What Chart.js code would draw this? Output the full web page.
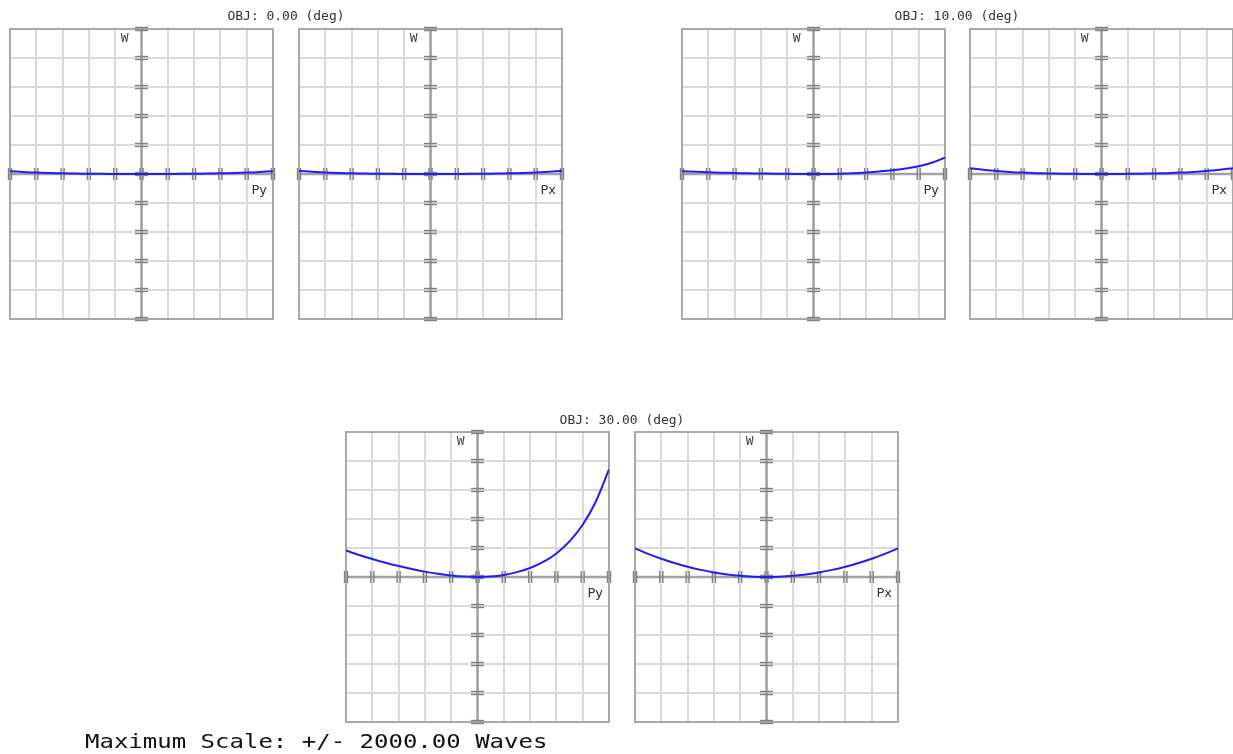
<!DOCTYPE html>
<html>
<head>
<meta charset="utf-8">
<script src="https://cdn.jsdelivr.net/npm/chart.js@4.4.1/dist/chart.umd.min.js"></script>
<style>
  html, body { margin: 0; padding: 0; background: #fff; width: 1233px; height: 754px; overflow: hidden; position: relative; }
  canvas { position: absolute; }
  .fieldTitle { position: absolute; font: 12px "DejaVu Sans Mono", monospace; line-height: 14px; color: #333; white-space: nowrap; transform: translateX(-50%) scaleX(1.08); }
  .scaleNote { position: absolute; left: 85px; top: 729px; font: 20px "DejaVu Sans Mono", monospace; line-height: 24px; color: #111; white-space: nowrap; transform: scaleX(1.2); transform-origin: 0 0; }
</style>
</head>
<body>
<div id="page"></div>
<script>
// Normalised pupil coordinate (Py or Px) at which each aberration value is sampled
const pupil = [-1.0, -0.9, -0.8, -0.7, -0.6, -0.5, -0.4, -0.3, -0.2, -0.1, 0.0,
                0.1,  0.2,  0.3,  0.4,  0.5,  0.6,  0.7,  0.8,  0.9, 1.0];

// Optical path difference, in waves, for each field angle
const obj0Tangential  = [38, 28, 19, 13, 9, 6, 4, 2, 1, 0, 0, 0, 1, 2, 4, 6, 9, 13, 19, 28, 38];
const obj0Sagittal    = [42, 31, 21, 14, 9, 6, 4, 2, 1, 0, 0, 0, 1, 2, 4, 6, 9, 14, 21, 31, 42];
const obj10Tangential = [38, 30, 23, 18, 14, 10, 7, 4, 2, 1, 0, 1, 5, 12, 22, 35, 52, 76, 108, 155, 225];
const obj10Sagittal   = [80, 58, 42, 29, 19, 12, 7, 4, 2, 0, 0, 0, 2, 4, 7, 12, 19, 29, 42, 58, 80];
const obj30Tangential = [365, 304, 248, 197, 151, 110, 74, 44, 21, 6, 0, 7, 29, 67, 124, 207, 325, 491, 720, 1042, 1485];
const obj30Sagittal   = [395, 319, 251, 192, 141, 98, 63, 36, 16, 4, 0, 4, 16, 36, 63, 98, 141, 192, 251, 319, 395];

// Field titles and axis captions
const fieldTitles = ['OBJ: 0.00 (deg)', 'OBJ: 10.00 (deg)', 'OBJ: 30.00 (deg)'];
const waveLabel = 'W';
const pupilLabels = ['Py', 'Px'];
const scaleText = 'Maximum Scale: +/- 2000.00 Waves';

// Axis extents: pupil from -1 to 1, wavefront within the maximum scale
const pupilMin = -1, pupilMax = 1, pupilStep = 0.2;
const waveMax = 2000, waveStep = 400;

// Layout of the plot boxes
const PAD = 9;
const BOX_W = 263, BOX_H = 290;
const panels = [
  { left: 10,  top: 29,  data: obj0Tangential,  label: pupilLabels[0] },
  { left: 299, top: 29,  data: obj0Sagittal,    label: pupilLabels[1] },
  { left: 682, top: 29,  data: obj10Tangential, label: pupilLabels[0] },
  { left: 970, top: 29,  data: obj10Sagittal,   label: pupilLabels[1] },
  { left: 346, top: 432, data: obj30Tangential, label: pupilLabels[0] },
  { left: 635, top: 432, data: obj30Sagittal,   label: pupilLabels[1] }
];
const titlePlaces = [
  { cx: 286, top: 9 },
  { cx: 957, top: 9 },
  { cx: 622, top: 413 }
];

const page = document.getElementById('page');

// Centre axes with double tick marks, frame, and captions
const fanAxes = {
  id: 'fanAxes',
  beforeDatasetsDraw(chart) {
    const { ctx, chartArea: a, scales: { x, y } } = chart;
    const x0 = x.getPixelForValue(0), y0 = y.getPixelForValue(0);
    const seg = (x1, y1, x2, y2) => { ctx.beginPath(); ctx.moveTo(x1, y1); ctx.lineTo(x2, y2); ctx.stroke(); };
    ctx.save();
    ctx.strokeStyle = '#a9a9a9';
    ctx.lineWidth = 2;
    ctx.strokeRect(a.left, a.top, a.right - a.left, a.bottom - a.top);
    ctx.strokeStyle = '#a2a2a2';
    ctx.lineWidth = 2.5;
    seg(x0, a.top, x0, a.bottom);
    seg(a.left, y0, a.right, y0);
    ctx.strokeStyle = '#808080';
    ctx.lineWidth = 1.4;
    y.ticks.forEach(t => {
      const py = y.getPixelForValue(t.value);
      seg(x0 - 6.5, py - 1.5, x0 + 6.5, py - 1.5);
      seg(x0 - 6.5, py + 1.5, x0 + 6.5, py + 1.5);
    });
    x.ticks.forEach(t => {
      const px = x.getPixelForValue(t.value);
      seg(px - 1.5, y0 - 6, px - 1.5, y0 + 6);
      seg(px + 1.5, y0 - 6, px + 1.5, y0 + 6);
    });
    ctx.restore();
  },
  afterDraw(chart, args, opts) {
    const { ctx, chartArea: a, scales: { x, y } } = chart;
    const x0 = x.getPixelForValue(0), y0 = y.getPixelForValue(0);
    ctx.save();
    ctx.fillStyle = '#444';
    ctx.textAlign = 'right';
    ctx.textBaseline = 'alphabetic';
    ctx.font = '13px "DejaVu Sans Mono", monospace';
    ctx.fillText(waveLabel, x0 - 13, a.top + 12.5);
    ctx.fillStyle = '#333';
    ctx.font = '13px "DejaVu Sans", sans-serif';
    ctx.fillText(opts.caption, a.right - 6, y0 + 20);
    ctx.restore();
  }
};

panels.forEach(p => {
  const cv = document.createElement('canvas');
  cv.width = BOX_W + 2 * PAD;
  cv.height = BOX_H + 2 * PAD;
  cv.style.left = (p.left - PAD) + 'px';
  cv.style.top = (p.top - PAD) + 'px';
  page.appendChild(cv);
  new Chart(cv, {
    type: 'line',
    data: {
      datasets: [{
        data: pupil.map((v, i) => ({ x: v, y: p.data[i] })),
        borderColor: 'rgb(30,30,255)',
        borderWidth: 2,
        pointRadius: 0,
        tension: 0.4,
        fill: false
      }]
    },
    options: {
      responsive: false,
      animation: false,
      events: [],
      layout: { padding: PAD },
      plugins: { legend: { display: false }, tooltip: { enabled: false }, fanAxes: { caption: p.label } },
      scales: {
        x: {
          type: 'linear', min: pupilMin, max: pupilMax,
          ticks: { display: false, stepSize: pupilStep },
          grid: { color: '#dadada', lineWidth: 2, drawTicks: false },
          border: { display: false }
        },
        y: {
          type: 'linear', min: -waveMax, max: waveMax,
          ticks: { display: false, stepSize: waveStep },
          grid: { color: '#dadada', lineWidth: 2, drawTicks: false },
          border: { display: false }
        }
      }
    },
    plugins: [fanAxes]
  });
});

fieldTitles.forEach((t, i) => {
  const d = document.createElement('div');
  d.className = 'fieldTitle';
  d.textContent = t;
  d.style.left = titlePlaces[i].cx + 'px';
  d.style.top = titlePlaces[i].top + 'px';
  page.appendChild(d);
});

const note = document.createElement('div');
note.className = 'scaleNote';
note.textContent = scaleText;
page.appendChild(note);
</script>
</body>
</html>
